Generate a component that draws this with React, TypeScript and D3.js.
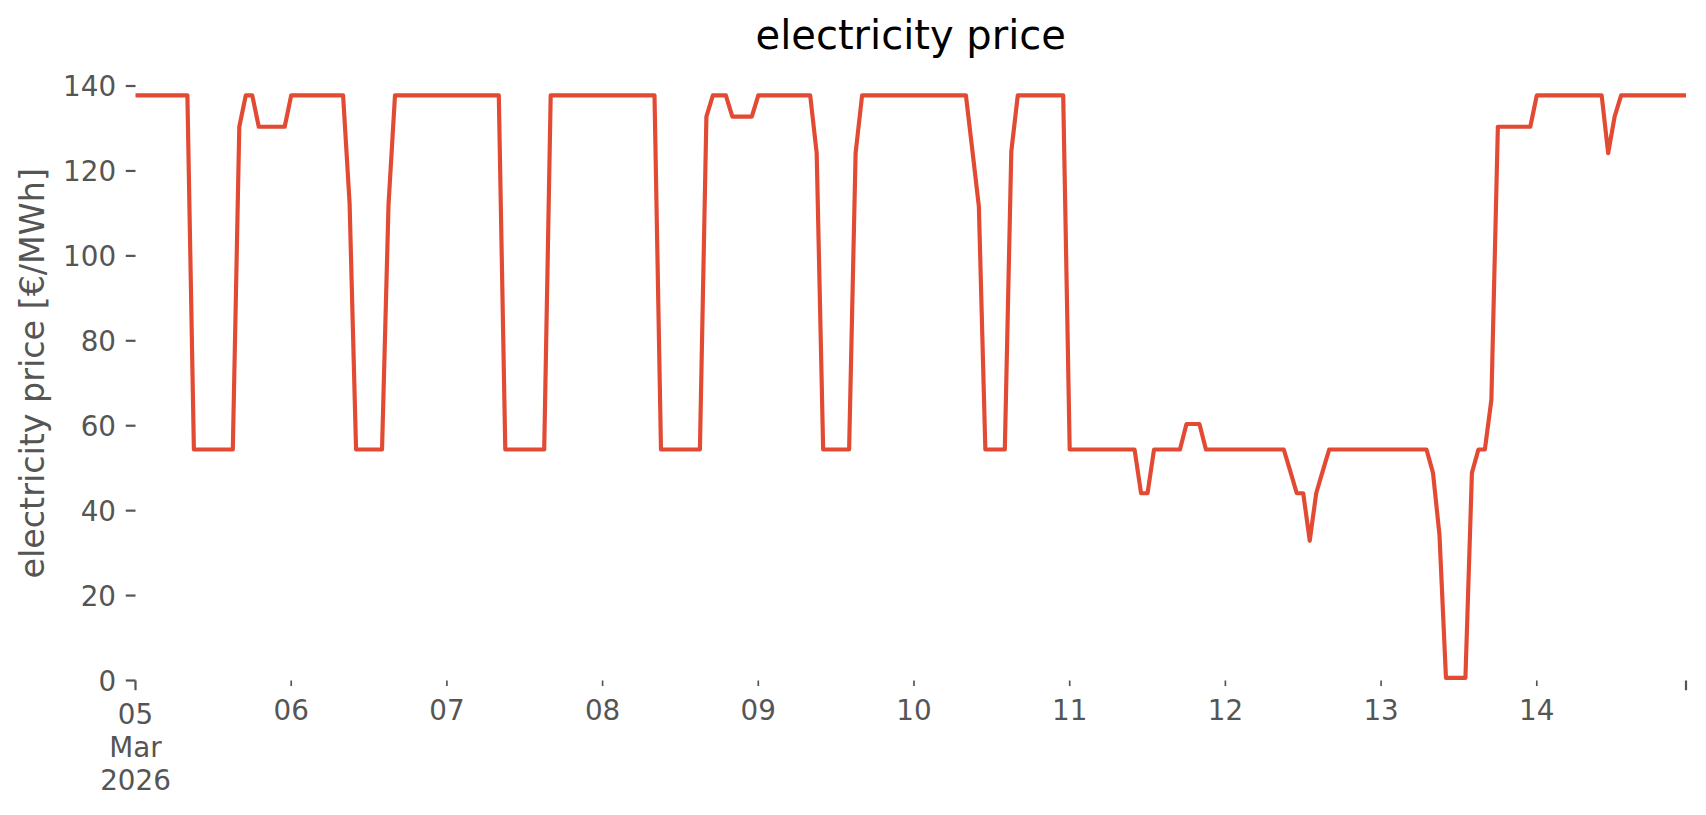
import React from "react";
import * as d3 from "d3";

// Hourly electricity price [€/MWh], 05 Mar 2026 00:00 ... 14 Mar 2026 23:00 (UTC)
const priceMar05 = [137.8, 137.8, 137.8, 137.8, 137.8, 137.8, 137.8, 137.8, 137.8, 54.4, 54.4, 54.4, 54.4, 54.4, 54.4, 54.4, 130.4, 137.8, 137.8, 130.4, 130.4, 130.4, 130.4, 130.4];
const priceMar06 = [137.8, 137.8, 137.8, 137.8, 137.8, 137.8, 137.8, 137.8, 137.8, 112.4, 54.4, 54.4, 54.4, 54.4, 54.4, 112.0, 137.8, 137.8, 137.8, 137.8, 137.8, 137.8, 137.8, 137.8];
const priceMar07 = [137.8, 137.8, 137.8, 137.8, 137.8, 137.8, 137.8, 137.8, 137.8, 54.4, 54.4, 54.4, 54.4, 54.4, 54.4, 54.4, 137.8, 137.8, 137.8, 137.8, 137.8, 137.8, 137.8, 137.8];
const priceMar08 = [137.8, 137.8, 137.8, 137.8, 137.8, 137.8, 137.8, 137.8, 137.8, 54.4, 54.4, 54.4, 54.4, 54.4, 54.4, 54.4, 132.8, 137.8, 137.8, 137.8, 132.8, 132.8, 132.8, 132.8];
const priceMar09 = [137.8, 137.8, 137.8, 137.8, 137.8, 137.8, 137.8, 137.8, 137.8, 124.2, 54.4, 54.4, 54.4, 54.4, 54.4, 124.2, 137.8, 137.8, 137.8, 137.8, 137.8, 137.8, 137.8, 137.8];
const priceMar10 = [137.8, 137.8, 137.8, 137.8, 137.8, 137.8, 137.8, 137.8, 137.8, 124.8, 111.6, 54.4, 54.4, 54.4, 54.4, 124.6, 137.8, 137.8, 137.8, 137.8, 137.8, 137.8, 137.8, 137.8];
const priceMar11 = [54.4, 54.4, 54.4, 54.4, 54.4, 54.4, 54.4, 54.4, 54.4, 54.4, 54.4, 44.1, 44.1, 54.4, 54.4, 54.4, 54.4, 54.4, 60.4, 60.4, 60.4, 54.4, 54.4, 54.4];
const priceMar12 = [54.4, 54.4, 54.4, 54.4, 54.4, 54.4, 54.4, 54.4, 54.4, 54.4, 49.3, 44.1, 44.1, 32.9, 44.1, 49.3, 54.4, 54.4, 54.4, 54.4, 54.4, 54.4, 54.4, 54.4];
const priceMar13 = [54.4, 54.4, 54.4, 54.4, 54.4, 54.4, 54.4, 54.4, 48.9, 34.3, 0.6, 0.6, 0.6, 0.6, 48.9, 54.4, 54.4, 66.1, 130.4, 130.4, 130.4, 130.4, 130.4, 130.4];
const priceMar14 = [137.8, 137.8, 137.8, 137.8, 137.8, 137.8, 137.8, 137.8, 137.8, 137.8, 137.8, 124.2, 132.8, 137.8, 137.8, 137.8, 137.8, 137.8, 137.8, 137.8, 137.8, 137.8, 137.8, 137.8];

const yTickValues = [0, 20, 40, 60, 80, 100, 120, 140];
const titleText = "electricity price";
const yLabelText = "electricity price [€/MWh]";

export default function App() {
  const W = 1706;
  const H = 815;
  const font = "'DejaVu Sans', sans-serif";
  const tickColor = "#555555";

  const prices = [
    ...priceMar05, ...priceMar06, ...priceMar07, ...priceMar08, ...priceMar09,
    ...priceMar10, ...priceMar11, ...priceMar12, ...priceMar13, ...priceMar14,
  ];
  const start = Date.UTC(2026, 2, 5, 0, 0, 0);
  const data = prices.map((v, i) => ({ t: new Date(start + i * 3600e3), v }));
  const first = data[0].t;
  const last = data[data.length - 1].t;

  const left = 135.5;
  const right = 1686;
  const x = d3.scaleUtc().domain([first, last]).range([left, right]);
  const y = d3.scaleLinear().domain([0, 144.7]).range([680.5, 66.06]);
  const axisY = y(0);

  const line = d3
    .line<{ t: Date; v: number }>()
    .x((d) => x(d.t))
    .y((d) => y(d.v));

  const minorDays = d3.utcDay.range(d3.utcDay.offset(first, 1), last);
  const fmtDay = d3.utcFormat("%d");
  const fmtMon = d3.utcFormat("%b");
  const fmtYear = d3.utcFormat("%Y");

  const majorLen = 9.72;
  const minorLen = 5.56;
  const fs = 27.78;

  return (
    <svg
      width={W}
      height={H}
      viewBox={`0 0 ${W} ${H}`}
      style={{ position: "absolute", left: 0, top: 0, display: "block", background: "#ffffff" }}
      fontFamily={font}
    >
      <rect x={0} y={0} width={W} height={H} fill="#ffffff" />
      <defs>
        <clipPath id="plotclip">
          <rect x={left} y={y(144.7)} width={right - left} height={axisY - y(144.7)} />
        </clipPath>
      </defs>

      {/* title */}
      <text x={(left + right) / 2} y={49.4} textAnchor="middle" fontSize={40} fill="#000000">
        {titleText}
      </text>

      {/* y axis ticks and labels */}
      {yTickValues.map((v) => (
        <g key={"y" + v}>
          <line x1={left - majorLen} x2={left} y1={y(v)} y2={y(v)} stroke={tickColor} strokeWidth={2.2} />
          <text x={left - majorLen - 9.72} y={y(v)} dy="0.36em" textAnchor="end" fontSize={fs} fill={tickColor}>
            {v}
          </text>
        </g>
      ))}

      {/* y label */}
      <text
        transform={`translate(44, ${(axisY + y(144.7)) / 2}) rotate(-90)`}
        textAnchor="middle"
        fontSize={33.33}
        fill={tickColor}
      >
        {yLabelText}
      </text>

      {/* x minor ticks (days) */}
      {minorDays.map((d) => (
        <g key={"xm" + d.getTime()}>
          <line x1={x(d)} x2={x(d)} y1={axisY} y2={axisY + minorLen} stroke={tickColor} strokeWidth={1.67} />
          <text x={x(d)} y={719.8} textAnchor="middle" fontSize={fs} fill={tickColor}>
            {fmtDay(d)}
          </text>
        </g>
      ))}

      {/* x major ticks: first and last period */}
      <line x1={x(first)} x2={x(first)} y1={axisY} y2={axisY + majorLen} stroke={tickColor} strokeWidth={2.2} />
      <line x1={x(last)} x2={x(last)} y1={axisY} y2={axisY + majorLen} stroke={tickColor} strokeWidth={2.2} />
      <text x={x(first)} y={723.5} textAnchor="middle" fontSize={fs} fill={tickColor}>
        <tspan x={x(first)} y={723.5}>{fmtDay(first)}</tspan>
        <tspan x={x(first)} y={756.8}>{fmtMon(first)}</tspan>
        <tspan x={x(first)} y={790.1}>{fmtYear(first)}</tspan>
      </text>

      {/* price line */}
      <path
        d={line(data) || ""}
        fill="none"
        stroke="#E24A33"
        strokeWidth={4.17}
        strokeLinejoin="round"
        strokeLinecap="square"
        clipPath="url(#plotclip)"
      />
    </svg>
  );
}
